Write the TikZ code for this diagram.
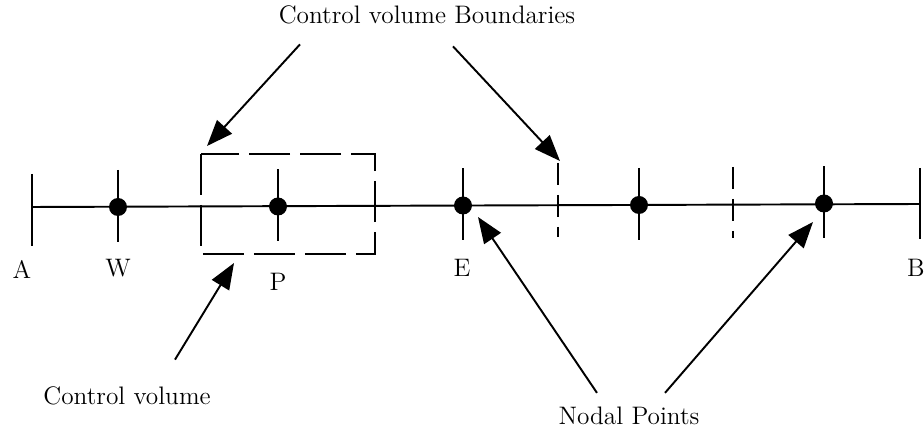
\documentclass[tikz,border=0pt]{standalone}
\usetikzlibrary{arrows.meta,positioning}

\begin{document}
\begin{tikzpicture}[x=0.02cm, y=-0.02cm, >={Triangle[length=0.52cm, width=0.4cm]}]

  \tikzset{
    gridline/.style={line width=1.1pt},
    ticmark/.style={line width=1.6pt},
    faceline/.style={line width=1.6pt, dash pattern=on 0.44cm off 0.2cm},
    cvbox/.style={line width=1.1pt, dash pattern=on 0.82cm off 0.2cm},
    nodal/.style={circle, fill, inner sep=0pt, minimum size=0.36cm},
    ptlabel/.style={font=\Large},
    note/.style={font=\Large},
    pointer/.style={->, line width=1.1pt}
  }

  \useasboundingbox (0,0) rectangle (924,438);

  % Grid line from boundary A to boundary B
  \coordinate (A) at (32,207);
  \coordinate (B) at (920,204);
  \draw[gridline] (A) -- (B);
  \draw[ticmark] (32,174) -- (32,246);
  \draw[ticmark] (920,168) -- (920,239);

  % Nodal points with their ticks
  \foreach \name/\x/\y in {W/118/207, P/278/206.5, E/463/205.5, F/639/205, G/824/203.5} {
    \node[nodal] (\name) at (\x,\y) {};
    \draw[ticmark] (\x,\y-37) -- (\x,\y+35);
  }

  % Control volume faces (dashed)
  \draw[faceline] (558,163) -- (558,237);
  \draw[faceline] (733,167) -- (733,238);

  % Control volume around P
  \draw[cvbox] (201,154) rectangle (375,254);
  \coordinate (boxNW) at (207,146);
  \coordinate (boxS) at (234,263);

  % Point labels
  \node[ptlabel] (labA) at (22,269) {A};
  \node[ptlabel] (labW) at (118,268) {W};
  \node[ptlabel] (labP) at (278,282) {P};
  \node[ptlabel] (labE) at (462,268) {E};
  \node[ptlabel] (labB) at (916,268) {B};

  % Annotations
  \node[note] (cvb) at (427,15) {Control volume Boundaries};
  \node[note] (cv) at (127,396) {Control volume};
  \node[note] (np) at (629,416) {Nodal Points};

  \coordinate (faceTip) at (560,161);
  \coordinate (eTip) at (478,217);
  \coordinate (gTip) at (813,222);

  \draw[pointer] ([shift={(-127,14)}]cvb.south) -- (boxNW);
  \draw[pointer] ([shift={(26,16)}]cvb.south) -- (faceTip);
  \draw[pointer] ([shift={(48,-21)}]cv.north) -- (boxS);
  \draw[pointer] ([shift={(-32,-8)}]np.north) -- (eTip);
  \draw[pointer] ([shift={(36,-8)}]np.north) -- (gTip);

\end{tikzpicture}
\end{document}
